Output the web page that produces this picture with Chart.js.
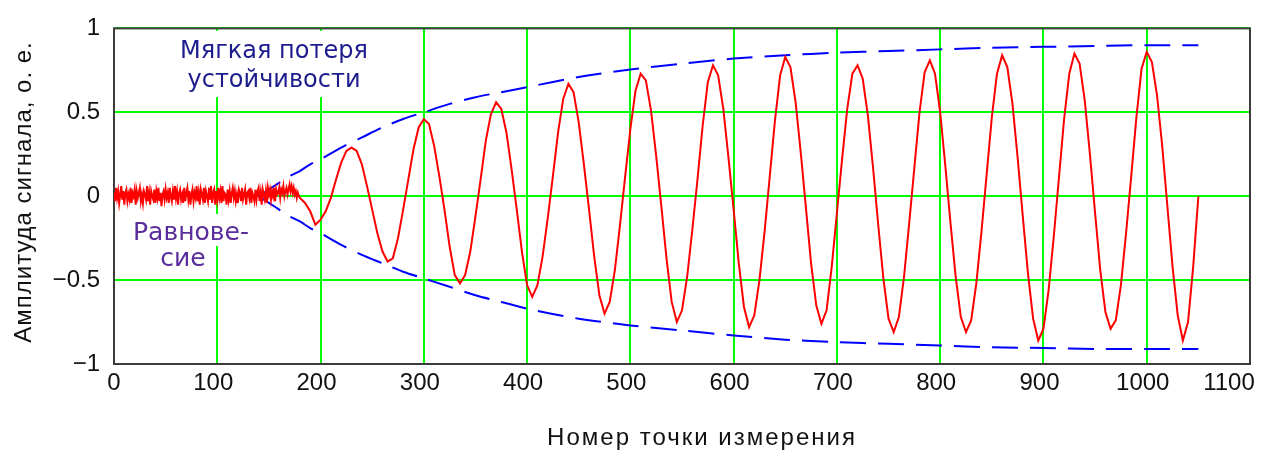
<!DOCTYPE html>
<html><head><meta charset="utf-8">
<script src="https://cdn.jsdelivr.net/npm/chart.js@4.4.1/dist/chart.umd.min.js"></script>
<style>html,body{margin:0;padding:0;background:#fff;}</style>
</head><body>
<canvas id="c" width="1265" height="454"></canvas>
<script>
// ---- data ----
const noiseStart = 0, noiseStep = 1;           // sample index of first point, spacing
const noiseY = [
  0.02,-0.03,0.05,-0.01,0.03,-0.04,0.01,0.06,-0.02,0.03,
 -0.05,0.02,0.04,-0.03,0.01,-0.02,0.05,-0.04,0.02,0.00,
  0.04,-0.05,0.03,-0.01,0.02,0.05,-0.03,0.01,-0.04,0.03,
  0.01,-0.02,0.06,-0.03,0.02,-0.05,0.03,0.00,-0.02,0.04,
 -0.04,0.03,-0.01,0.05,-0.03,0.02,-0.06,0.01,0.03,-0.02,
  0.04,-0.01,0.02,-0.04,0.05,0.00,-0.03,0.03,-0.02,0.06,
 -0.01,0.03,-0.05,0.02,0.04,-0.02,0.01,-0.04,0.05,-0.03,
  0.02,0.05,-0.02,0.03,-0.05,0.01,0.04,-0.03,0.02,-0.01,
  0.06,-0.03,0.02,-0.05,0.04,0.01,-0.02,0.05,-0.04,0.03,
  0.00,-0.03,0.05,-0.02,0.06,-0.04,0.02,0.04,-0.05,0.03,
 -0.02,0.05,-0.01,0.03,-0.04,0.06,-0.03,0.02,0.01,-0.05,
  0.04,-0.02,0.03,-0.04,0.02,0.05,-0.01,0.03,-0.03,0.01,
 -0.04,0.04,0.02,-0.03,0.05,-0.02,0.01,0.04,-0.05,0.02,
  0.03,-0.01,0.05,-0.04,0.02,0.00,-0.03,0.04,-0.02,0.03,
  0.05,-0.03,0.02,-0.05,0.04,0.01,-0.02,0.03,-0.04,0.05,
  0.01,0.04,-0.02,0.03,0.00,0.05,-0.03,0.04,0.01,0.02,
  0.05,-0.01,0.04,0.02,0.06,0.00,0.03,0.05,0.01,0.04,
  0.07,0.03,0.06,0.02,0.05,0.01,0.03,-0.01,0.02,0.00
];
const oscStart = 180, oscStep = 5;
const oscY = [
 -0.01,-0.04,-0.09,-0.17,-0.14,-0.09,-0.01,0.10,0.20,0.27,      // 180-225
  0.29,0.27,0.19,0.06,-0.08,-0.22,-0.33,-0.39,-0.37,-0.25,      // 230-275
 -0.08,0.10,0.28,0.41,0.46,0.43,0.30,0.12,-0.08,-0.30,          // 280-325
 -0.47,-0.52,-0.47,-0.33,-0.12,0.10,0.33,0.49,0.56,0.52,        // 330-375
  0.38,0.16,-0.08,-0.33,-0.53,-0.60,-0.53,-0.36,-0.13,0.12,     // 380-425
  0.38,0.58,0.67,0.62,0.44,0.19,-0.08,-0.36,-0.59,-0.70,        // 430-475
 -0.63,-0.44,-0.17,0.12,0.40,0.63,0.73,0.69,0.51,0.24,          // 480-525
 -0.06,-0.37,-0.63,-0.75,-0.68,-0.48,-0.20,0.10,0.42,0.68,      // 530-575
  0.78,0.72,0.52,0.23,-0.08,-0.40,-0.66,-0.78,-0.71,-0.50,      // 580-625
 -0.21,0.12,0.45,0.72,0.83,0.77,0.56,0.26,-0.07,-0.40,          // 630-675
 -0.65,-0.76,-0.68,-0.42,-0.10,0.22,0.52,0.73,0.78,0.70,        // 680-725
  0.48,0.17,-0.17,-0.49,-0.73,-0.81,-0.72,-0.48,-0.16,0.17,     // 730-775
  0.50,0.74,0.81,0.73,0.50,0.18,-0.16,-0.48,-0.72,-0.81,        // 780-825
 -0.74,-0.52,-0.21,0.13,0.47,0.73,0.84,0.77,0.55,0.23,          // 830-875
 -0.12,-0.46,-0.73,-0.86,-0.79,-0.56,-0.24,0.11,0.46,0.73,      // 880-925
  0.85,0.79,0.57,0.25,-0.10,-0.44,-0.69,-0.79,-0.74,-0.53,      // 930-975
 -0.22,0.12,0.47,0.76,0.86,0.80,0.60,0.30,-0.06,-0.42,          // 980-1025
 -0.71,-0.86,-0.75,-0.42,0.00                                   // 1030-1050
];
const envX     = [140,150,160,170,180,190,200,220,240,260,280,300,325,350,375,400,450,500,550,600,650,700,750,800,850,900,950,1000,1050];
const envUpper = [0,0.04,0.08,0.12,0.15,0.19,0.22,0.29,0.35,0.41,0.46,0.50,0.55,0.59,0.62,0.65,0.71,0.755,0.79,0.82,0.84,0.855,0.865,0.875,0.885,0.89,0.895,0.90,0.90];
const envLower = [0,-0.04,-0.08,-0.12,-0.15,-0.19,-0.22,-0.29,-0.35,-0.40,-0.45,-0.49,-0.54,-0.59,-0.63,-0.67,-0.73,-0.77,-0.80,-0.83,-0.855,-0.87,-0.88,-0.89,-0.90,-0.905,-0.91,-0.91,-0.91];
const yTickLabels = {'-1':'\u22121','-0.5':'\u22120.5','0':'0','0.5':'0.5','1':'1'};
const yAxisTitle = 'Амплитуда сигнала, о. е.';
const xAxisTitle = 'Номер точки измерения';
const noteUpper = ['Мягкая потеря', 'устойчивости'];
const noteLower = ['Равнове-', 'сие'];

// ---- build datasets ----
const signal = [];
noiseY.forEach((v,i)=>signal.push({x: noiseStart + i*noiseStep, y: v}));
oscY.forEach((v,i)=>signal.push({x: oscStart + i*oscStep, y: v}));
const upper = envX.map((x,i)=>({x, y: envUpper[i]}));
const lower = envX.map((x,i)=>({x, y: envLower[i]}));

const TICK_FONT = {family:'Liberation Sans, Arial, sans-serif', size:24};

const deco = {
  id:'deco',
  beforeDraw(chart){
    // nudge x tick labels slightly left as in the reference (last one kept inside the canvas)
    const sx = chart.scales.x;
    const items = sx.getLabelItems(chart.chartArea);
    items.forEach((it, i) => {
      if (i === 0) return;
      const dx = (i === items.length - 1) ? -21 : -4;
      it.options.translation[0] += dx;
    });
  },
  beforeDatasetsDraw(chart){
    const {ctx, chartArea:a} = chart;
    ctx.save();
    // white text boxes
    ctx.fillStyle = '#ffffff';
    ctx.fillRect(176, 31, 196, 66);
    ctx.fillRect(128, 214, 128, 32);
    ctx.fillRect(158, 246, 50, 26);
    // frame
    ctx.strokeStyle = '#3c3c3c';
    ctx.lineWidth = 2;
    ctx.strokeRect(a.left, a.top, a.right - a.left, a.bottom - a.top);
    // annotations
    ctx.font = '24px "DejaVu Sans", sans-serif';
    ctx.textAlign = 'center';
    ctx.textBaseline = 'alphabetic';
    ctx.fillStyle = '#1c1c8e';
    ctx.fillText(noteUpper[0], 274, 58);
    ctx.fillText(noteUpper[1], 274, 87);
    ctx.font = '25px "DejaVu Sans", sans-serif';
    ctx.fillStyle = '#5a2d9c';
    ctx.fillText(noteLower[0], 191, 240);
    ctx.fillText(noteLower[1], 183, 266);
    ctx.restore();
  },
  afterDraw(chart){
    const {ctx} = chart;
    ctx.save();
    ctx.fillStyle = '#111';
    ctx.font = '24px "Liberation Sans", Arial, sans-serif';
    ctx.textAlign = 'center';
    ctx.textBaseline = 'alphabetic';
    try { ctx.letterSpacing = '2px'; } catch(e) {}
    ctx.fillText(xAxisTitle, 702, 445);
    ctx.translate(31, 192);
    ctx.rotate(-Math.PI/2);
    try { ctx.letterSpacing = '1px'; } catch(e) {}
    ctx.fillText(yAxisTitle, 0, 0);
    ctx.restore();
  }
};

new Chart(document.getElementById('c'), {
  type:'line',
  data:{datasets:[
    {label:'Сигнал', data:signal, borderColor:'#ff0000', borderWidth:2, pointRadius:0, tension:0, fill:false},
    {label:'Огибающая +', data:upper, borderColor:'#0000ff', borderWidth:2, borderDash:[26,12], pointRadius:0, tension:0.3, fill:false},
    {label:'Огибающая −', data:lower, borderColor:'#0000ff', borderWidth:2, borderDash:[26,12], pointRadius:0, tension:0.3, fill:false}
  ]},
  options:{
    responsive:false, animation:false,
    layout:{padding:{left:0, right:15, top:19, bottom:0}},
    plugins:{legend:{display:false}, tooltip:{enabled:false}},
    scales:{
      x:{type:'linear', min:0, max:1100,
        afterFit(s){ s.height = 90; s.paddingLeft = 0; s.paddingRight = 0; },
        ticks:{stepSize:100, padding:5, font:TICK_FONT, color:'#111', maxRotation:0, autoSkip:false,
          callback:(v)=> String(v)},
        grid:{color:'#00ff00', lineWidth:2, drawTicks:false},
        border:{display:false}},
      y:{type:'linear', min:-1, max:1,
        afterFit(s){ s.width = 114; },
        ticks:{stepSize:0.5, padding:14, font:TICK_FONT, color:'#111',
          callback:(v)=> yTickLabels[String(v)] ?? String(v)},
        grid:{color:'#00ff00', lineWidth:2, drawTicks:false},
        border:{display:false}}
    }
  },
  plugins:[deco]
});
</script>
</body></html>
